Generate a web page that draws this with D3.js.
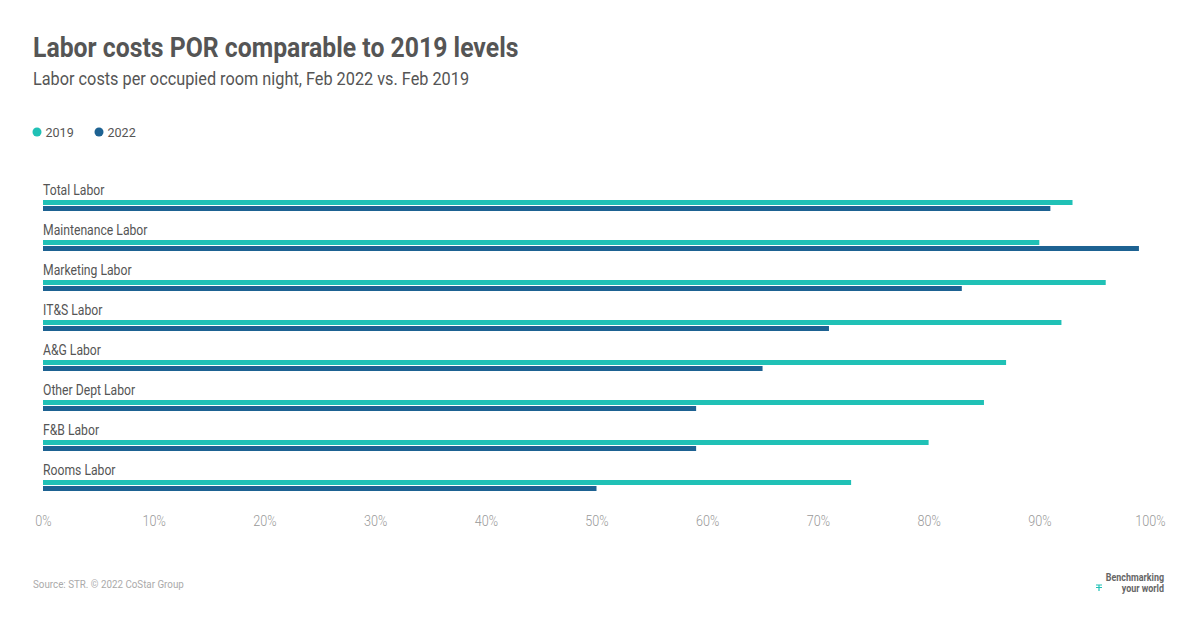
<!DOCTYPE html>
<html>
<head>
<meta charset="utf-8">
<script src="https://cdn.jsdelivr.net/npm/d3@7"></script>
<style>
  body { margin: 0; background: #fff; }
  text { font-family: Roboto, "Noto Sans", sans-serif; }
</style>
</head>
<body>
<div id="chart"></div>
<script>
var categories = ["Total Labor", "Maintenance Labor", "Marketing Labor", "IT&S Labor",
                  "A&G Labor", "Other Dept Labor", "F&B Labor", "Rooms Labor"];
var values2019 = [0.93, 0.90, 0.96, 0.92, 0.87, 0.85, 0.80, 0.73];
var values2022 = [0.91, 0.99, 0.83, 0.71, 0.65, 0.59, 0.59, 0.50];
var seriesNames = ["2019", "2022"];
var xTicks = [0, 0.1, 0.2, 0.3, 0.4, 0.5, 0.6, 0.7, 0.8, 0.9, 1.0];

var width = 1200, height = 628;
var colors = { "2019": "#20c1b6", "2022": "#1d6292" };
var condense = 0.87;

var svg = d3.select("#chart").append("svg")
    .attr("width", width)
    .attr("height", height);

// squeeze text horizontally, Roboto is wider than the original condensed face
function squeeze(sel, factor) {
  sel.each(function() {
    var w = this.getComputedTextLength();
    d3.select(this).attr("textLength", w * factor).attr("lengthAdjust", "spacingAndGlyphs");
  });
}

svg.append("text")
    .attr("x", 33).attr("y", 57)
    .attr("font-size", 28).attr("font-weight", 700)
    .attr("fill", "#555")
    .text("Labor costs POR comparable to 2019 levels")
    .call(squeeze, 0.885);

svg.append("text")
    .attr("x", 33).attr("y", 85)
    .attr("font-size", 17.5)
    .attr("fill", "#555")
    .text("Labor costs per occupied room night, Feb 2022 vs. Feb 2019")
    .call(squeeze, 0.93);

// legend
var legend = svg.append("g").selectAll("g").data(seriesNames).enter()
    .append("g")
    .attr("transform", function(d, i) { return "translate(" + (37 + i * 62) + ",132)"; });
legend.append("circle").attr("r", 4.5).attr("fill", function(d) { return colors[d]; });
legend.append("text")
    .attr("x", 8.5).attr("y", 4.8)
    .attr("font-size", 13.5).attr("fill", "#555")
    .text(function(d) { return d; })
    .call(squeeze, 0.93);

var x = d3.scaleLinear().domain([0, 1]).range([43, 1150]);
var y = d3.scaleBand().domain(categories).range([180, 500]);

var rows = svg.append("g").selectAll("g").data(categories).enter()
    .append("g")
    .attr("transform", function(d) { return "translate(0," + y(d) + ")"; });

rows.append("text")
    .attr("x", x(0)).attr("y", 15)
    .attr("font-size", 14).attr("fill", "#555")
    .text(function(d) { return d; })
    .call(squeeze, condense);

rows.append("rect")
    .attr("x", x(0)).attr("y", 20)
    .attr("height", 5)
    .attr("width", function(d, i) { return x(values2019[i]) - x(0); })
    .attr("fill", colors["2019"]);

rows.append("rect")
    .attr("x", x(0)).attr("y", 26)
    .attr("height", 5)
    .attr("width", function(d, i) { return x(values2022[i]) - x(0); })
    .attr("fill", colors["2022"]);

var axis = svg.append("g")
    .attr("transform", "translate(0,510)")
    .call(d3.axisBottom(x).tickValues(xTicks).tickFormat(d3.format(".0%")).tickSize(0).tickPadding(6));
axis.select(".domain").remove();
axis.selectAll("text")
    .attr("font-family", "Roboto, sans-serif")
    .attr("font-size", 14)
    .attr("font-weight", 300)
    .attr("fill", "#999")
    .call(squeeze, 0.9);

svg.append("text")
    .attr("x", 33).attr("y", 588)
    .attr("font-size", 11).attr("fill", "#aaa")
    .text("Source: STR. \u00a9 2022 CoStar Group")
    .call(squeeze, 0.89);

// logo
var logo = svg.append("g").attr("transform", "translate(1164,0)");
logo.append("text")
    .attr("y", 581).attr("text-anchor", "end")
    .attr("font-size", 10.5).attr("font-weight", 700).attr("fill", "#666")
    .text("Benchmarking")
    .call(squeeze, 0.85);
logo.append("text")
    .attr("y", 592).attr("text-anchor", "end")
    .attr("font-size", 10.5).attr("font-weight", 700).attr("fill", "#666")
    .text("your world")
    .call(squeeze, 0.85);
logo.append("path")
    .attr("d", "M-68,585h6M-68,587.5h6M-65,585v6")
    .attr("stroke", colors["2019"]).attr("stroke-width", 1.2).attr("fill", "none");
</script>
</body>
</html>
